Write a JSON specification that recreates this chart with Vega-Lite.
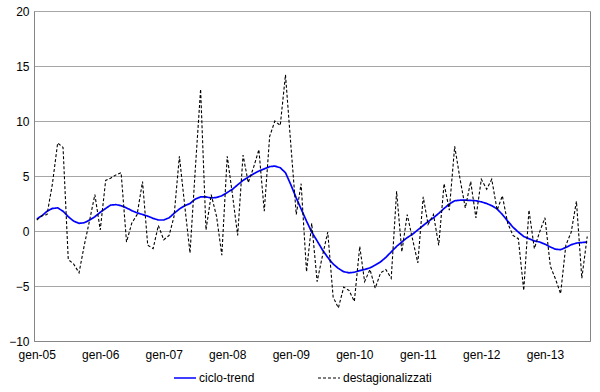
{
  "$schema": "https://vega.github.io/schema/vega-lite/v6.json",
  "width": 556,
  "height": 330,
  "autosize": {"type": "none"},
  "padding": {"left": 34, "top": 11, "right": 10, "bottom": 51},
  "background": "white",
  "config": {
    "font": "Liberation Sans",
    "view": {"stroke": "#868686", "strokeWidth": 1},
    "axis": {"labelFont": "Liberation Sans", "labelFontSize": 12, "labelColor": "#000000"}
  },
  "data": {
    "values": [
      {"date": "2005-01-01", "ciclo-trend": 1.1, "destagionalizzati": 1.0},
      {"date": "2005-02-01", "ciclo-trend": 1.4, "destagionalizzati": 1.4},
      {"date": "2005-03-01", "ciclo-trend": 1.8, "destagionalizzati": 1.5},
      {"date": "2005-04-01", "ciclo-trend": 2.05, "destagionalizzati": 4.3},
      {"date": "2005-05-01", "ciclo-trend": 2.1, "destagionalizzati": 8.0},
      {"date": "2005-06-01", "ciclo-trend": 1.8, "destagionalizzati": 7.6},
      {"date": "2005-07-01", "ciclo-trend": 1.3, "destagionalizzati": -2.6},
      {"date": "2005-08-01", "ciclo-trend": 0.9, "destagionalizzati": -3.0},
      {"date": "2005-09-01", "ciclo-trend": 0.7, "destagionalizzati": -3.8},
      {"date": "2005-10-01", "ciclo-trend": 0.75, "destagionalizzati": -1.3},
      {"date": "2005-11-01", "ciclo-trend": 1.0, "destagionalizzati": 1.0},
      {"date": "2005-12-01", "ciclo-trend": 1.3, "destagionalizzati": 3.3},
      {"date": "2006-01-01", "ciclo-trend": 1.7, "destagionalizzati": 0.1},
      {"date": "2006-02-01", "ciclo-trend": 2.05, "destagionalizzati": 4.6},
      {"date": "2006-03-01", "ciclo-trend": 2.35, "destagionalizzati": 4.8},
      {"date": "2006-04-01", "ciclo-trend": 2.4, "destagionalizzati": 5.1},
      {"date": "2006-05-01", "ciclo-trend": 2.3, "destagionalizzati": 5.3},
      {"date": "2006-06-01", "ciclo-trend": 2.1, "destagionalizzati": -1.0},
      {"date": "2006-07-01", "ciclo-trend": 1.85, "destagionalizzati": 0.7},
      {"date": "2006-08-01", "ciclo-trend": 1.65, "destagionalizzati": 1.5},
      {"date": "2006-09-01", "ciclo-trend": 1.5, "destagionalizzati": 4.5},
      {"date": "2006-10-01", "ciclo-trend": 1.35, "destagionalizzati": -1.3},
      {"date": "2006-11-01", "ciclo-trend": 1.15, "destagionalizzati": -1.6},
      {"date": "2006-12-01", "ciclo-trend": 1.0, "destagionalizzati": 0.5},
      {"date": "2007-01-01", "ciclo-trend": 1.0, "destagionalizzati": -0.8},
      {"date": "2007-02-01", "ciclo-trend": 1.2, "destagionalizzati": -0.4},
      {"date": "2007-03-01", "ciclo-trend": 1.6, "destagionalizzati": 1.3},
      {"date": "2007-04-01", "ciclo-trend": 2.0, "destagionalizzati": 6.8},
      {"date": "2007-05-01", "ciclo-trend": 2.3, "destagionalizzati": 2.4},
      {"date": "2007-06-01", "ciclo-trend": 2.5, "destagionalizzati": -2.0},
      {"date": "2007-07-01", "ciclo-trend": 2.9, "destagionalizzati": 5.5},
      {"date": "2007-08-01", "ciclo-trend": 3.1, "destagionalizzati": 12.9},
      {"date": "2007-09-01", "ciclo-trend": 3.1, "destagionalizzati": 0.1},
      {"date": "2007-10-01", "ciclo-trend": 3.0, "destagionalizzati": 3.3},
      {"date": "2007-11-01", "ciclo-trend": 3.05, "destagionalizzati": 1.3},
      {"date": "2007-12-01", "ciclo-trend": 3.2, "destagionalizzati": -2.2},
      {"date": "2008-01-01", "ciclo-trend": 3.5, "destagionalizzati": 6.8},
      {"date": "2008-02-01", "ciclo-trend": 3.8, "destagionalizzati": 3.2},
      {"date": "2008-03-01", "ciclo-trend": 4.2, "destagionalizzati": -0.4},
      {"date": "2008-04-01", "ciclo-trend": 4.6, "destagionalizzati": 6.9},
      {"date": "2008-05-01", "ciclo-trend": 4.9, "destagionalizzati": 4.4},
      {"date": "2008-06-01", "ciclo-trend": 5.2, "destagionalizzati": 5.8},
      {"date": "2008-07-01", "ciclo-trend": 5.45, "destagionalizzati": 7.4},
      {"date": "2008-08-01", "ciclo-trend": 5.65, "destagionalizzati": 1.8},
      {"date": "2008-09-01", "ciclo-trend": 5.85, "destagionalizzati": 8.6},
      {"date": "2008-10-01", "ciclo-trend": 5.9, "destagionalizzati": 10.0},
      {"date": "2008-11-01", "ciclo-trend": 5.75, "destagionalizzati": 9.6},
      {"date": "2008-12-01", "ciclo-trend": 5.3, "destagionalizzati": 14.2},
      {"date": "2009-01-01", "ciclo-trend": 4.2, "destagionalizzati": 7.8},
      {"date": "2009-02-01", "ciclo-trend": 3.0, "destagionalizzati": 1.5},
      {"date": "2009-03-01", "ciclo-trend": 2.0, "destagionalizzati": 4.3},
      {"date": "2009-04-01", "ciclo-trend": 0.9, "destagionalizzati": -3.7},
      {"date": "2009-05-01", "ciclo-trend": -0.1, "destagionalizzati": 0.7},
      {"date": "2009-06-01", "ciclo-trend": -0.9, "destagionalizzati": -4.6},
      {"date": "2009-07-01", "ciclo-trend": -1.7, "destagionalizzati": -2.3},
      {"date": "2009-08-01", "ciclo-trend": -2.4, "destagionalizzati": -0.1},
      {"date": "2009-09-01", "ciclo-trend": -3.0, "destagionalizzati": -6.0},
      {"date": "2009-10-01", "ciclo-trend": -3.4, "destagionalizzati": -7.0},
      {"date": "2009-11-01", "ciclo-trend": -3.7, "destagionalizzati": -5.1},
      {"date": "2009-12-01", "ciclo-trend": -3.8, "destagionalizzati": -5.4},
      {"date": "2010-01-01", "ciclo-trend": -3.75, "destagionalizzati": -6.4},
      {"date": "2010-02-01", "ciclo-trend": -3.6, "destagionalizzati": -1.4},
      {"date": "2010-03-01", "ciclo-trend": -3.5, "destagionalizzati": -4.6},
      {"date": "2010-04-01", "ciclo-trend": -3.35, "destagionalizzati": -3.5},
      {"date": "2010-05-01", "ciclo-trend": -3.1, "destagionalizzati": -5.2},
      {"date": "2010-06-01", "ciclo-trend": -2.8, "destagionalizzati": -3.8},
      {"date": "2010-07-01", "ciclo-trend": -2.4, "destagionalizzati": -3.5},
      {"date": "2010-08-01", "ciclo-trend": -1.9, "destagionalizzati": -4.3},
      {"date": "2010-09-01", "ciclo-trend": -1.4, "destagionalizzati": 3.6},
      {"date": "2010-10-01", "ciclo-trend": -1.0, "destagionalizzati": -1.9},
      {"date": "2010-11-01", "ciclo-trend": -0.6, "destagionalizzati": 1.5},
      {"date": "2010-12-01", "ciclo-trend": -0.3, "destagionalizzati": -0.7},
      {"date": "2011-01-01", "ciclo-trend": 0.1, "destagionalizzati": -2.9},
      {"date": "2011-02-01", "ciclo-trend": 0.5, "destagionalizzati": 3.1},
      {"date": "2011-03-01", "ciclo-trend": 0.85, "destagionalizzati": 0.6},
      {"date": "2011-04-01", "ciclo-trend": 1.2, "destagionalizzati": 1.5},
      {"date": "2011-05-01", "ciclo-trend": 1.6, "destagionalizzati": -1.3},
      {"date": "2011-06-01", "ciclo-trend": 2.05, "destagionalizzati": 4.3},
      {"date": "2011-07-01", "ciclo-trend": 2.45, "destagionalizzati": 1.9},
      {"date": "2011-08-01", "ciclo-trend": 2.75, "destagionalizzati": 7.7},
      {"date": "2011-09-01", "ciclo-trend": 2.8, "destagionalizzati": 4.7},
      {"date": "2011-10-01", "ciclo-trend": 2.8, "destagionalizzati": 2.1},
      {"date": "2011-11-01", "ciclo-trend": 2.78, "destagionalizzati": 4.5},
      {"date": "2011-12-01", "ciclo-trend": 2.75, "destagionalizzati": 1.2},
      {"date": "2012-01-01", "ciclo-trend": 2.65, "destagionalizzati": 4.7},
      {"date": "2012-02-01", "ciclo-trend": 2.5, "destagionalizzati": 3.8},
      {"date": "2012-03-01", "ciclo-trend": 2.3, "destagionalizzati": 4.7},
      {"date": "2012-04-01", "ciclo-trend": 2.0, "destagionalizzati": 1.9},
      {"date": "2012-05-01", "ciclo-trend": 1.5, "destagionalizzati": 3.2},
      {"date": "2012-06-01", "ciclo-trend": 0.9, "destagionalizzati": 0.7},
      {"date": "2012-07-01", "ciclo-trend": 0.35, "destagionalizzati": -0.4},
      {"date": "2012-08-01", "ciclo-trend": -0.1, "destagionalizzati": -0.7},
      {"date": "2012-09-01", "ciclo-trend": -0.5, "destagionalizzati": -5.4},
      {"date": "2012-10-01", "ciclo-trend": -0.7, "destagionalizzati": 1.9},
      {"date": "2012-11-01", "ciclo-trend": -0.9, "destagionalizzati": -1.6},
      {"date": "2012-12-01", "ciclo-trend": -1.0, "destagionalizzati": -0.1},
      {"date": "2013-01-01", "ciclo-trend": -1.2, "destagionalizzati": 1.2},
      {"date": "2013-02-01", "ciclo-trend": -1.45, "destagionalizzati": -3.2},
      {"date": "2013-03-01", "ciclo-trend": -1.65, "destagionalizzati": -4.3},
      {"date": "2013-04-01", "ciclo-trend": -1.7, "destagionalizzati": -5.7},
      {"date": "2013-05-01", "ciclo-trend": -1.5, "destagionalizzati": -1.3},
      {"date": "2013-06-01", "ciclo-trend": -1.25, "destagionalizzati": -0.1},
      {"date": "2013-07-01", "ciclo-trend": -1.1, "destagionalizzati": 2.7},
      {"date": "2013-08-01", "ciclo-trend": -1.05, "destagionalizzati": -4.3},
      {"date": "2013-09-01", "ciclo-trend": -1.0, "destagionalizzati": -0.5}
    ]
  },
  "transform": [{"fold": ["ciclo-trend", "destagionalizzati"], "as": ["series", "value"]}],
  "mark": {"type": "line"},
  "encoding": {
    "x": {
      "field": "date",
      "type": "temporal",
      "scale": {
        "type": "utc",
        "domain": [
          {"year": 2004, "month": 12, "date": 16, "utc": true},
          {"year": 2013, "month": 9, "date": 17, "utc": true}
        ]
      },
      "axis": {
        "title": null,
        "grid": false,
        "ticks": false,
        "domainColor": "#868686",
        "labelPadding": 8,
        "labelExpr": "'gen-' + utcFormat(datum.value, '%y')",
        "values": [
          {"year": 2005, "month": 1, "date": 1, "utc": true},
          {"year": 2006, "month": 1, "date": 1, "utc": true},
          {"year": 2007, "month": 1, "date": 1, "utc": true},
          {"year": 2008, "month": 1, "date": 1, "utc": true},
          {"year": 2009, "month": 1, "date": 1, "utc": true},
          {"year": 2010, "month": 1, "date": 1, "utc": true},
          {"year": 2011, "month": 1, "date": 1, "utc": true},
          {"year": 2012, "month": 1, "date": 1, "utc": true},
          {"year": 2013, "month": 1, "date": 1, "utc": true}
        ]
      }
    },
    "y": {
      "field": "value",
      "type": "quantitative",
      "scale": {"domain": [-10, 20], "nice": false},
      "axis": {
        "title": null,
        "values": [-10, -5, 0, 5, 10, 15, 20],
        "grid": true,
        "gridColor": "#a6a6a6",
        "ticks": false,
        "domainColor": "#868686",
        "labelPadding": 5
      }
    },
    "color": {
      "field": "series",
      "type": "nominal",
      "scale": {"domain": ["ciclo-trend", "destagionalizzati"], "range": ["#0000ff", "#000000"]},
      "legend": {"orient": "none", "legendX": 139, "legendY": 355, "direction": "horizontal", "title": null, "symbolType": "stroke", "symbolSize": 484, "labelFontSize": 12, "labelFont": "Liberation Sans", "labelColor": "#000000", "columnPadding": 60, "gridAlign": "none", "labelOffset": 2}
    },
    "strokeDash": {
      "field": "series",
      "type": "nominal",
      "scale": {"domain": ["ciclo-trend", "destagionalizzati"], "range": [[1, 0], [3, 2]]},
      "legend": {"orient": "none", "legendX": 139, "legendY": 355, "direction": "horizontal", "title": null, "symbolType": "stroke", "symbolSize": 484, "labelFontSize": 12, "labelFont": "Liberation Sans", "labelColor": "#000000", "columnPadding": 60, "gridAlign": "none", "labelOffset": 2}
    },
    "strokeWidth": {
      "field": "series",
      "type": "nominal",
      "scale": {"domain": ["ciclo-trend", "destagionalizzati"], "range": [1.7, 1.1]},
      "legend": {"orient": "none", "legendX": 139, "legendY": 355, "direction": "horizontal", "title": null, "symbolType": "stroke", "symbolSize": 484, "labelFontSize": 12, "labelFont": "Liberation Sans", "labelColor": "#000000", "columnPadding": 60, "gridAlign": "none", "labelOffset": 2}
    }
  }
}
